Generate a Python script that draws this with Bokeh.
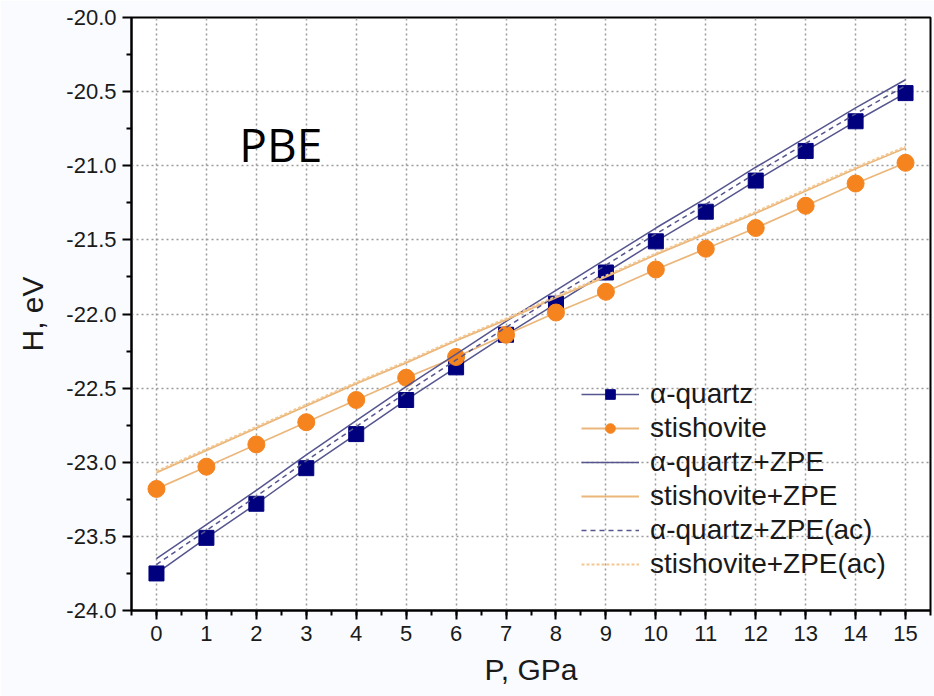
from bokeh.plotting import figure
from bokeh.models import (ColumnDataSource, Range1d, Label, Legend, LegendItem,
                          SingleIntervalTicker, FixedTicker, NumeralTickFormatter)
from bokeh.embed import file_html
from bokeh.resources import INLINE

# ---- data ----
pressure = [0, 1, 2, 3, 4, 5, 6, 7, 8, 9, 10, 11, 12, 13, 14, 15]
quartz = [-23.75, -23.51, -23.28, -23.04, -22.81, -22.58, -22.36, -22.14,
          -21.93, -21.72, -21.51, -21.31, -21.10, -20.90, -20.70, -20.51]
stishovite = [-23.18, -23.03, -22.88, -22.73, -22.58, -22.43, -22.29, -22.14,
              -21.99, -21.85, -21.70, -21.56, -21.42, -21.27, -21.12, -20.98]
quartz_zpe = [-23.65, -23.42, -23.19, -22.95, -22.72, -22.49, -22.27, -22.05,
              -21.84, -21.63, -21.42, -21.22, -21.01, -20.81, -20.61, -20.42]
quartz_zpe_ac = [-23.69, -23.46, -23.23, -22.99, -22.76, -22.53, -22.31, -22.09,
                 -21.88, -21.67, -21.46, -21.26, -21.05, -20.85, -20.65, -20.46]
stish_zpe = [-23.07, -22.92, -22.77, -22.62, -22.47, -22.33, -22.18, -22.04,
             -21.89, -21.75, -21.60, -21.46, -21.32, -21.17, -21.02, -20.88]
stish_zpe_ac = [-23.06, -22.91, -22.76, -22.61, -22.46, -22.32, -22.17, -22.03,
                -21.88, -21.74, -21.59, -21.45, -21.31, -21.16, -21.01, -20.87]
y_ticks = [-24.0, -23.5, -23.0, -22.5, -22.0, -21.5, -21.0, -20.5, -20.0]
legend_labels = ["\u03b1-quartz", "stishovite", "\u03b1-quartz+ZPE",
                 "stishovite+ZPE", "\u03b1-quartz+ZPE(ac)", "stishovite+ZPE(ac)"]
x_title = "P, GPa"
y_title = "H, eV"

src = ColumnDataSource(dict(p=pressure, q=quartz, s=stishovite, qz=quartz_zpe,
                            qza=quartz_zpe_ac, sz=stish_zpe, sza=stish_zpe_ac))

FONT = "Liberation Sans"
NAVY = "#00007f"
QLINE = "#55558f"
ORANGE = "#f5841f"
OLINE = "#ebb67a"
TXT = "#1a1a1a"

p = figure(width=934, height=696, output_backend="svg", toolbar_location=None,
           x_range=Range1d(-0.5, 15.5), y_range=Range1d(-24.0, -20.0),
           min_border_left=131, min_border_right=4, min_border_top=17,
           min_border_bottom=86)
p.background_fill_color = "white"
p.border_fill_color = "#f9fbfe"
p.outline_line_color = "black"
p.outline_line_width = 2

# axes
p.xaxis.ticker = SingleIntervalTicker(interval=1, num_minor_ticks=2)
p.yaxis.ticker = FixedTicker(ticks=y_ticks,
                             minor_ticks=[-23.75, -23.25, -22.75, -22.25, -21.75,
                                          -21.25, -20.75, -20.25])
p.yaxis.formatter = NumeralTickFormatter(format="0.0")
for ax in (p.xaxis[0], p.yaxis[0]):
    ax.axis_line_color = "black"
    ax.axis_line_width = 2
    ax.major_tick_line_color = "black"
    ax.major_tick_line_width = 2
    ax.minor_tick_line_color = "black"
    ax.minor_tick_line_width = 2
    ax.major_tick_in = 0
    ax.major_tick_out = 9
    ax.minor_tick_in = 0
    ax.minor_tick_out = 5
    ax.major_label_text_font = FONT
    ax.major_label_text_font_size = "22px"
    ax.major_label_text_color = TXT
    ax.major_label_standoff = 6
    ax.axis_label_text_font = FONT
    ax.axis_label_text_font_size = "30px"
    ax.axis_label_text_font_style = "normal"
    ax.axis_label_text_color = TXT
p.xaxis.axis_label = x_title
p.yaxis.axis_label = y_title
p.xaxis.axis_label_standoff = 9
p.yaxis.axis_label_standoff = 14

p.xgrid.ticker = SingleIntervalTicker(interval=1)
p.ygrid.ticker = FixedTicker(ticks=y_ticks)
for g in (p.xgrid[0], p.ygrid[0]):
    g.grid_line_color = "#9a9a9a"
    g.grid_line_dash = "2 3"
    g.grid_line_width = 1.5

# series
r_q_line = p.line("p", "q", source=src, line_color=QLINE, line_width=1.5)
r_q_pts = p.scatter("p", "q", source=src, marker="square", size=15,
                    fill_color=NAVY, line_color=NAVY)
r_s_line = p.line("p", "s", source=src, line_color=OLINE, line_width=1.8)
r_s_pts = p.scatter("p", "s", source=src, marker="circle", size=17,
                    fill_color=ORANGE, line_color=ORANGE)
r_qz = p.line("p", "qz", source=src, line_color=QLINE, line_width=1.5)
r_sz = p.line("p", "sz", source=src, line_color=OLINE, line_width=1.8)
r_qza = p.line("p", "qza", source=src, line_color=QLINE, line_width=1.5,
               line_dash="5 4")
r_sza = p.line("p", "sza", source=src, line_color="#f2c894", line_width=1.8,
               line_dash="3 2")

legend = Legend(items=[
    LegendItem(label=legend_labels[0], renderers=[r_q_line, r_q_pts]),
    LegendItem(label=legend_labels[1], renderers=[r_s_line, r_s_pts]),
    LegendItem(label=legend_labels[2], renderers=[r_qz]),
    LegendItem(label=legend_labels[3], renderers=[r_sz]),
    LegendItem(label=legend_labels[4], renderers=[r_qza]),
    LegendItem(label=legend_labels[5], renderers=[r_sza]),
], location=(450, 30))
legend.border_line_color = None
legend.background_fill_alpha = 0
legend.label_text_font = FONT
legend.label_text_font_size = "28px"
legend.label_text_color = TXT
legend.glyph_width = 58
legend.glyph_height = 24
legend.label_height = 24
legend.spacing = 2
legend.padding = 5
legend.margin = 0
legend.label_standoff = 11
p.add_layout(legend)

# in-plot label
p.add_layout(Label(x=1.66, y=-20.85, text="PBE", text_font="Open Sans",
                   text_font_size="46px", text_color="black",
                   text_baseline="alphabetic", text_align="left"))

open("out.html", "w").write(file_html(p, INLINE))
